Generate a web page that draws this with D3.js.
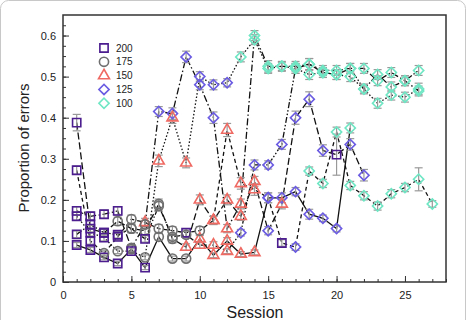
<!DOCTYPE html>
<html>
<head>
<meta charset="utf-8">
<script src="https://cdn.jsdelivr.net/npm/d3@7"></script>
<style>
  body { margin: 0; background: #fff; }
  svg text { font-family: "Liberation Sans", Arial, sans-serif; }
</style>
</head>
<body>
<figure id="chart" style="margin:0"></figure>
<script>
// each subject: [session, proportion, condition, error]
const subjSolid = [
    [1, 0.09, 200, 0.006], [2, 0.078, 200, 0.006], [3, 0.06, 200, 0.006], [4, 0.045, 200, 0.005],
    [5, 0.08, 175, 0.008], [6, 0.035, 200, 0.005], [7, 0.11, 175, 0.008], [8, 0.057, 175, 0.006],
    [9, 0.057, 175, 0.006], [10, 0.105, 150, 0.008], [11, 0.065, 150, 0.006], [12, 0.1, 150, 0.008],
    [13, 0.068, 150, 0.006], [14, 0.072, 150, 0.006], [15, 0.205, 125, 0.012], [16, 0.205, 125, 0.012],
    [17, 0.22, 125, 0.01], [18, 0.165, 125, 0.012], [19, 0.155, 125, 0.008], [20, 0.13, 125, 0.008],
    [21, 0.375, 100, 0.012]
];
const subjLongDash = [
    [1, 0.388, 200, 0.02], [2, 0.13, 200, 0.008], [3, 0.12, 200, 0.008], [4, 0.148, 175, 0.01],
    [5, 0.13, 175, 0.01], [6, 0.125, 175, 0.01], [7, 0.19, 175, 0.012], [8, 0.105, 175, 0.01],
    [9, 0.085, 150, 0.008], [10, 0.2, 150, 0.012], [11, 0.15, 150, 0.01], [12, 0.2, 150, 0.012],
    [13, 0.16, 150, 0.01], [14, 0.245, 150, 0.012], [15, 0.125, 125, 0.01], [16, 0.19, 150, 0.012],
    [17, 0.4, 125, 0.016], [18, 0.445, 125, 0.018], [19, 0.32, 125, 0.014], [20, 0.31, 200, 0.05],
    [21, 0.335, 125, 0.014], [22, 0.26, 125, 0.014]
];
const subjDash = [
    [1, 0.272, 200, 0.01], [2, 0.1, 200, 0.008], [3, 0.07, 175, 0.006], [4, 0.11, 200, 0.008],
    [5, 0.153, 175, 0.01], [6, 0.145, 150, 0.01], [7, 0.13, 175, 0.01], [8, 0.125, 175, 0.01],
    [9, 0.12, 200, 0.01], [10, 0.125, 175, 0.01], [11, 0.15, 150, 0.01], [12, 0.37, 150, 0.016],
    [13, 0.24, 150, 0.014], [14, 0.225, 150, 0.014], [15, 0.205, 125, 0.012], [16, 0.095, 200, 0.008],
    [17, 0.085, 125, 0.008], [18, 0.27, 100, 0.01], [19, 0.24, 100, 0.01], [20, 0.365, 100, 0.012],
    [21, 0.235, 100, 0.01], [22, 0.21, 100, 0.01], [23, 0.185, 100, 0.01], [24, 0.215, 100, 0.01],
    [25, 0.23, 100, 0.01], [26, 0.25, 100, 0.028], [27, 0.19, 100, 0.008]
];
const subjDashDot = [
    [1, 0.173, 200, 0.01], [2, 0.16, 200, 0.01], [3, 0.165, 200, 0.01], [4, 0.173, 200, 0.01],
    [5, 0.083, 175, 0.008], [6, 0.14, 175, 0.01], [7, 0.415, 125, 0.012], [8, 0.41, 125, 0.014],
    [9, 0.548, 125, 0.014], [10, 0.48, 125, 0.012], [11, 0.4, 125, 0.014], [12, 0.13, 150, 0.01],
    [13, 0.19, 150, 0.012], [14, 0.6, 100, 0.012], [15, 0.525, 100, 0.014], [16, 0.525, 100, 0.012],
    [17, 0.525, 100, 0.012], [18, 0.53, 100, 0.014], [19, 0.515, 100, 0.012], [20, 0.515, 100, 0.012],
    [21, 0.52, 100, 0.012], [22, 0.52, 100, 0.012], [23, 0.49, 100, 0.012], [24, 0.51, 100, 0.012],
    [25, 0.49, 100, 0.012], [26, 0.465, 100, 0.012]
];
const subjDot = [
    [1, 0.16, 200, 0.01], [2, 0.12, 200, 0.008], [3, 0.108, 200, 0.008], [4, 0.075, 175, 0.006],
    [5, 0.075, 200, 0.006], [6, 0.06, 175, 0.006], [7, 0.295, 150, 0.014], [8, 0.4, 150, 0.014],
    [9, 0.29, 150, 0.012], [10, 0.5, 125, 0.012], [11, 0.48, 125, 0.012], [12, 0.485, 125, 0.01],
    [13, 0.548, 100, 0.012], [14, 0.59, 100, 0.012], [15, 0.52, 100, 0.012], [16, 0.525, 100, 0.01],
    [17, 0.52, 100, 0.012], [18, 0.505, 100, 0.012], [19, 0.51, 100, 0.012], [20, 0.505, 100, 0.012],
    [21, 0.5, 100, 0.012], [22, 0.47, 100, 0.01], [23, 0.435, 100, 0.012], [24, 0.455, 100, 0.012],
    [25, 0.45, 100, 0.012], [26, 0.47, 100, 0.014]
];
const subjDashDotDot = [
    [1, 0.116, 200, 0.008], [2, 0.14, 200, 0.01], [3, 0.12, 200, 0.008], [4, 0.115, 200, 0.008],
    [5, 0.13, 175, 0.01], [6, 0.105, 200, 0.008], [7, 0.185, 175, 0.012], [8, 0.11, 175, 0.008],
    [9, 0.115, 175, 0.008], [10, 0.09, 150, 0.008], [11, 0.09, 150, 0.008], [12, 0.075, 150, 0.006],
    [13, 0.12, 125, 0.008], [14, 0.285, 125, 0.012], [15, 0.285, 125, 0.01], [16, 0.335, 125, 0.012],
    [17, 0.52, 100, 0.012], [18, 0.53, 100, 0.014], [19, 0.51, 100, 0.012], [20, 0.505, 100, 0.012],
    [21, 0.52, 100, 0.012], [22, 0.47, 100, 0.012], [23, 0.505, 100, 0.012], [24, 0.475, 100, 0.012],
    [25, 0.49, 100, 0.012], [26, 0.515, 100, 0.012]
];

const conditions = [200, 175, 150, 125, 100];
const xTicks = [0, 5, 10, 15, 20, 25];
const yTicks = [0, 0.1, 0.2, 0.3, 0.4, 0.5, 0.6];

const subjects = [
    { data: subjSolid, dash: null },
    { data: subjLongDash, dash: "7,3" },
    { data: subjDash, dash: "4,3" },
    { data: subjDashDot, dash: "7,2.5,1.5,2.5" },
    { data: subjDot, dash: "1.5,2" },
    { data: subjDashDotDot, dash: "6,2,1.5,2,1.5,2" }
];

const markerStyle = {
    200: { shape: d3.symbolSquare, size: 68, rotate: 0, color: "#4b1d8e" },
    175: { shape: d3.symbolCircle, size: 66, rotate: 0, color: "#6f6f6f" },
    150: { shape: d3.symbolTriangle, size: 52, rotate: 0, color: "#ef6a62" },
    125: { shape: d3.symbolSquare, size: 52, rotate: 45, color: "#6a5be2" },
    100: { shape: d3.symbolSquare, size: 52, rotate: 45, color: "#6fe6c4" }
};

let dimensions = { width: 468, height: 320, left: 63, right: 446, top: 15, bottom: 282 };

const svg = d3.select("figure#chart")
    .append("svg")
    .attr("width", dimensions.width)
    .attr("height", dimensions.height);

// thumbnail frame
svg.append("rect")
    .attr("x", 0.5).attr("y", 0.5)
    .attr("width", 465).attr("height", 340)
    .attr("rx", 8)
    .attr("fill", "none")
    .attr("stroke", "#c8c8c8");

const xScale = d3.scaleLinear().domain([0, 28]).range([dimensions.left, dimensions.right]);
const yScale = d3.scaleLinear().domain([0, 0.65]).range([dimensions.bottom, dimensions.top]);

// minor ticks (inward)
svg.append("g")
    .attr("transform", `translate(0, ${dimensions.bottom})`)
    .call(d3.axisBottom(xScale).tickValues(d3.range(0, 29)).tickSizeInner(-3).tickSizeOuter(0).tickFormat(""))
    .call(g => g.select(".domain").remove())
    .selectAll("line").attr("stroke", "#333");
svg.append("g")
    .attr("transform", `translate(${dimensions.left}, 0)`)
    .call(d3.axisLeft(yScale).tickValues(d3.range(0, 26).map(i => i * 0.025)).tickSizeInner(-3).tickSizeOuter(0).tickFormat(""))
    .call(g => g.select(".domain").remove())
    .selectAll("line").attr("stroke", "#333");

// major ticks + labels
const xAxis = svg.append("g")
    .attr("transform", `translate(0, ${dimensions.bottom})`)
    .call(d3.axisBottom(xScale).tickValues(xTicks).tickSizeInner(-6).tickSizeOuter(0).tickPadding(9).tickFormat(d3.format("d")));
xAxis.select(".domain").remove();
xAxis.selectAll("line").attr("stroke", "#333");
xAxis.selectAll("text").attr("font-size", 11).attr("fill", "#222");

const yAxis = svg.append("g")
    .attr("transform", `translate(${dimensions.left}, 0)`)
    .call(d3.axisLeft(yScale).tickValues(yTicks).tickSizeInner(-6).tickSizeOuter(0).tickPadding(7)
        .tickFormat(d => d === 0 ? "0" : d3.format(".1f")(d)));
yAxis.select(".domain").remove();
yAxis.selectAll("line").attr("stroke", "#333");
yAxis.selectAll("text").attr("font-size", 11).attr("fill", "#222");

// plot frame
svg.append("rect")
    .attr("x", dimensions.left).attr("y", dimensions.top)
    .attr("width", dimensions.right - dimensions.left)
    .attr("height", dimensions.bottom - dimensions.top)
    .attr("fill", "none")
    .attr("stroke", "#333")
    .attr("stroke-width", 1.5);

// axis titles
svg.append("text")
    .attr("x", 255).attr("y", 318)
    .attr("text-anchor", "middle")
    .attr("font-size", 16)
    .attr("fill", "#222")
    .text("Session");
svg.append("text")
    .attr("transform", "translate(29, 148) rotate(-90)")
    .attr("text-anchor", "middle")
    .attr("font-size", 15)
    .attr("fill", "#222")
    .text("Proportion of errors");

const line = d3.line()
    .x(d => xScale(d[0]))
    .y(d => yScale(d[1]));

// lines
svg.selectAll("path.subject")
    .data(subjects)
    .enter()
    .append("path")
    .attr("class", "subject")
    .attr("d", d => line(d.data))
    .attr("fill", "none")
    .attr("stroke", "#111")
    .attr("stroke-width", 1.3)
    .attr("stroke-dasharray", d => d.dash);

const allPoints = subjects.flatMap(s => s.data);

// error bars
const errs = svg.append("g").attr("stroke", "#999").attr("stroke-width", 1.2);
allPoints.forEach(d => {
    const x = xScale(d[0]);
    const y0 = yScale(d[1] - d[3]);
    const y1 = yScale(d[1] + d[3]);
    errs.append("line").attr("x1", x).attr("x2", x).attr("y1", y0).attr("y2", y1);
    errs.append("line").attr("x1", x - 4).attr("x2", x + 4).attr("y1", y0).attr("y2", y0);
    errs.append("line").attr("x1", x - 4).attr("x2", x + 4).attr("y1", y1).attr("y2", y1);
});

// markers
svg.selectAll("path.marker")
    .data(allPoints)
    .enter()
    .append("path")
    .attr("class", "marker")
    .attr("d", d => d3.symbol(markerStyle[d[2]].shape, markerStyle[d[2]].size)())
    .attr("transform", d => `translate(${xScale(d[0])}, ${yScale(d[1])}) rotate(${markerStyle[d[2]].rotate})`)
    .attr("fill", "none")
    .attr("stroke", d => markerStyle[d[2]].color)
    .attr("stroke-width", 1.6);

// legend
const legend = svg.append("g");
conditions.forEach((c, i) => {
    const y = 48 + i * 13.8;
    legend.append("path")
        .attr("d", d3.symbol(markerStyle[c].shape, markerStyle[c].size)())
        .attr("transform", `translate(104, ${y}) rotate(${markerStyle[c].rotate})`)
        .attr("fill", "none")
        .attr("stroke", markerStyle[c].color)
        .attr("stroke-width", 1.6);
    legend.append("text")
        .attr("x", 116).attr("y", y + 3.5)
        .attr("font-size", 10)
        .attr("fill", "#222")
        .text(c);
});
</script>
</body>
</html>
